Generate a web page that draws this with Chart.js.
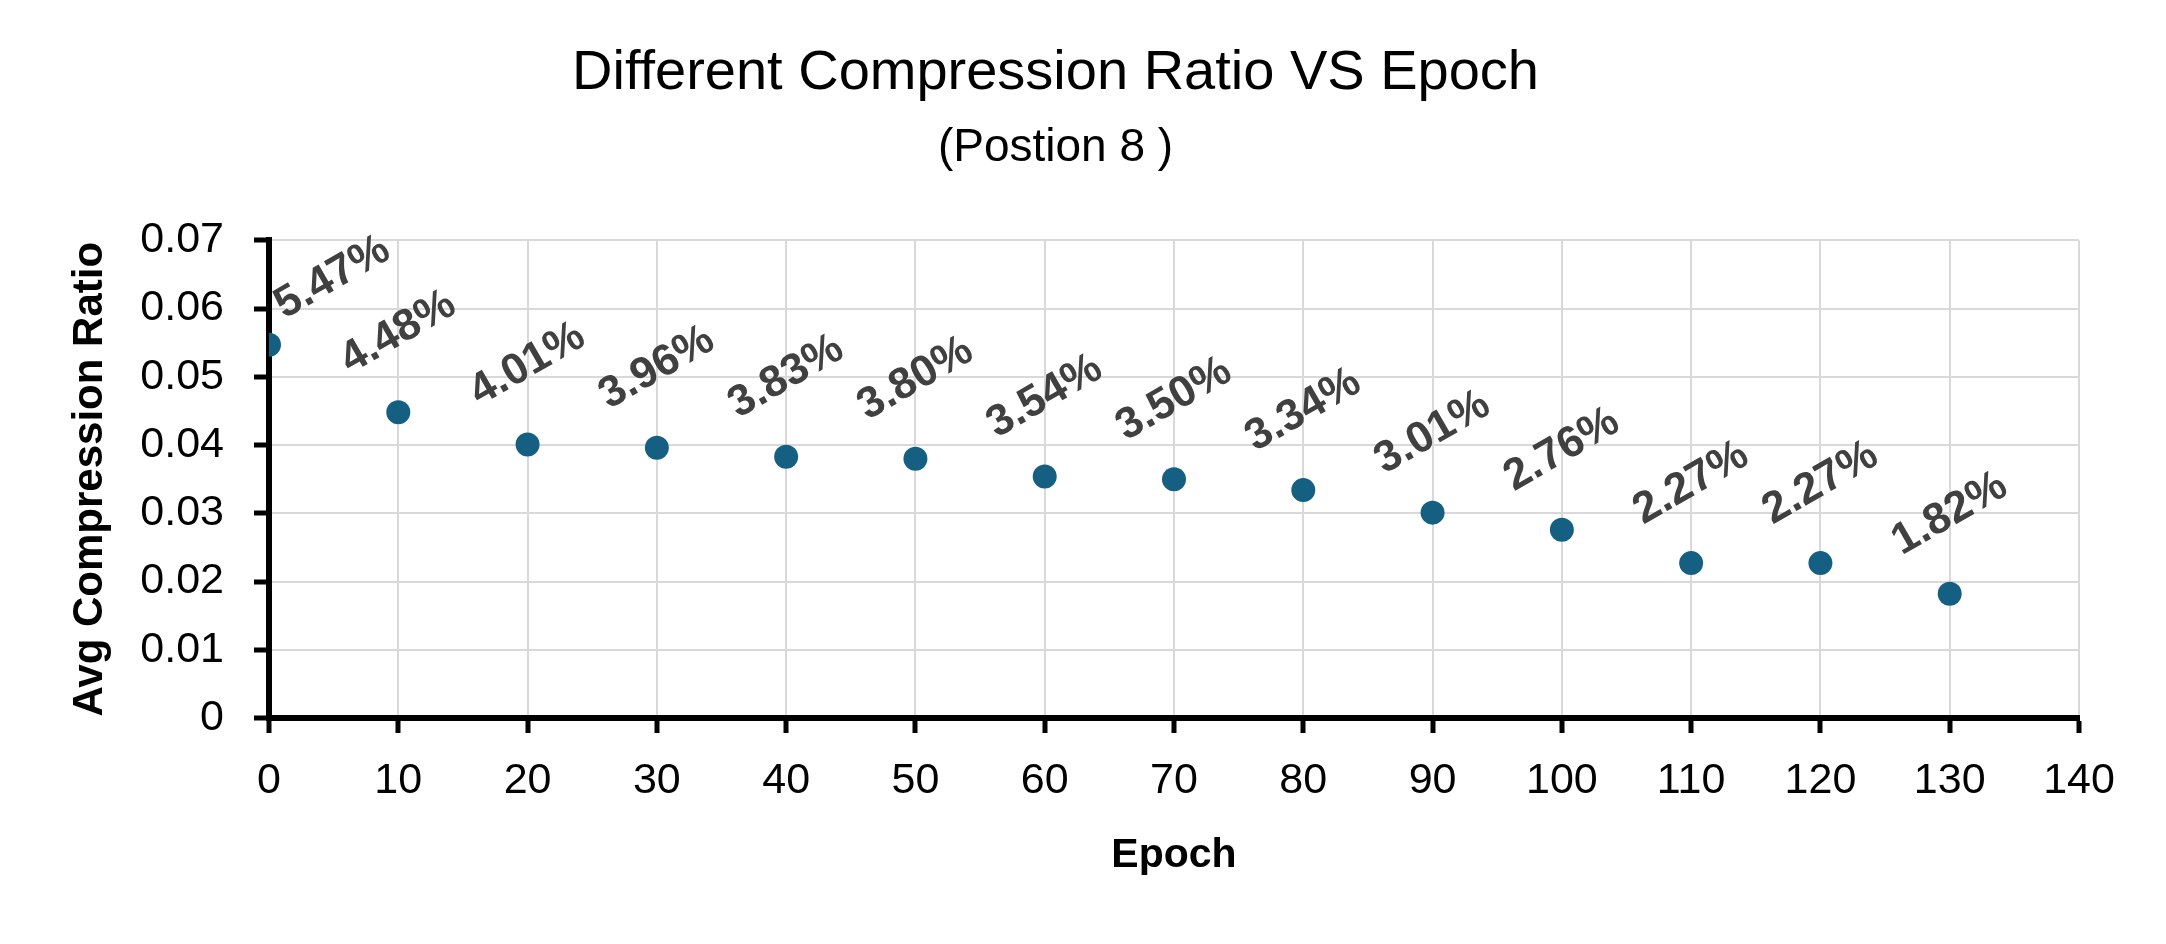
<!DOCTYPE html>
<html>
<head>
<meta charset="utf-8">
<title>Different Compression Ratio VS Epoch</title>
<script src="https://cdn.jsdelivr.net/npm/chart.js@4.4.1/dist/chart.umd.min.js"></script>
<style>
    html, body { margin: 0; padding: 0; background: #ffffff; }
    #wrap { width: 2166px; height: 944px; }
</style>
</head>
<body>
<div id="wrap"><canvas id="ratioChart" width="2166" height="944"></canvas></div>
<script>
// Data
const epochs = [0, 10, 20, 30, 40, 50, 60, 70, 80, 90, 100, 110, 120, 130];
const avgRatio = [0.0547, 0.0448, 0.0401, 0.0396, 0.0383, 0.0380, 0.0354, 0.0350, 0.0334, 0.0301, 0.0276, 0.0227, 0.0227, 0.0182];
const yTickLabels = ['0', '0.01', '0.02', '0.03', '0.04', '0.05', '0.06', '0.07'];
const xTickLabels = ['0', '10', '20', '30', '40', '50', '60', '70', '80', '90', '100', '110', '120', '130', '140'];

const FONT = "'Liberation Sans', Arial, sans-serif";
const POINT_COLOR = '#156082';
const LABEL_COLOR = '#404040';

// Rotated percentage labels above each point
const percentLabels = {
    id: 'percentLabels',
    afterDatasetsDraw(chart) {
        const ctx = chart.ctx;
        const area = chart.chartArea;
        const meta = chart.getDatasetMeta(0);
        const angle = -30 * Math.PI / 180;
        ctx.save();
        ctx.font = 'bold 44px ' + FONT;
        ctx.fillStyle = LABEL_COLOR;
        ctx.textAlign = 'center';
        ctx.textBaseline = 'middle';
        meta.data.forEach((pt, i) => {
            const text = (avgRatio[i] * 100).toFixed(2) + '%';
            const w = ctx.measureText(text).width;
            const halfW = (w * Math.cos(-angle) + 30 * Math.sin(-angle)) / 2;
            let cx = pt.x;
            let cy = pt.y - 80;
            // keep the first label inside the plot, like the original
            const minX = area.left + halfW + 2;
            if (cx < minX) {
                const shift = minX - cx;
                cx = minX;
                cy += shift * 0.2;
            }
            ctx.save();
            ctx.translate(cx, cy);
            ctx.rotate(angle);
            ctx.fillText(text, 0, 0);
            ctx.restore();
        });
        ctx.restore();
    }
};

const ctx = document.getElementById('ratioChart').getContext('2d');
new Chart(ctx, {
    type: 'scatter',
    data: {
        datasets: [{
            label: 'Avg Compression Ratio',
            data: epochs.map((e, i) => ({ x: e, y: avgRatio[i] })),
            backgroundColor: POINT_COLOR,
            borderColor: POINT_COLOR,
            borderWidth: 0,
            pointRadius: 12,
            pointHoverRadius: 12
        }]
    },
    options: {
        responsive: false,
        animation: false,
        devicePixelRatio: 1,
        layout: { padding: { left: 32, right: 87, top: 0, bottom: 0 } },
        plugins: {
            legend: { display: false },
            tooltip: { enabled: false },
            title: {
                display: true,
                text: 'Different Compression Ratio VS Epoch',
                color: '#000000',
                font: { family: FONT, size: 56, weight: 'normal', lineHeight: 1.2 },
                padding: { top: 40, bottom: 0 }
            },
            subtitle: {
                display: true,
                text: '(Postion 8 )',
                color: '#000000',
                font: { family: FONT, size: 46, weight: 'normal', lineHeight: 1.2 },
                padding: { top: 14, bottom: 64 }
            }
        },
        scales: {
            x: {
                type: 'linear',
                min: 0,
                max: 140,
                afterFit: scale => { scale.height = 226; },
                ticks: {
                    stepSize: 10,
                    padding: 22,
                    color: '#000000',
                    font: { family: FONT, size: 43 },
                    callback: (v, i) => xTickLabels[i]
                },
                grid: {
                    color: '#d9d9d9',
                    lineWidth: 2,
                    tickLength: 15,
                    tickColor: '#000000',
                    tickWidth: 5
                },
                border: { color: '#000000', width: 6 },
                title: {
                    display: true,
                    text: 'Epoch',
                    color: '#000000',
                    font: { family: FONT, size: 41, weight: 'bold', lineHeight: 1.2 },
                    padding: { top: 0, bottom: 64 }
                }
            },
            y: {
                min: 0,
                max: 0.07,
                afterFit: scale => { scale.width = 237; },
                ticks: {
                    stepSize: 0.01,
                    padding: 30,
                    color: '#000000',
                    font: { family: FONT, size: 43 },
                    callback: (v, i) => yTickLabels[i]
                },
                grid: {
                    color: '#d9d9d9',
                    lineWidth: 2,
                    tickLength: 15,
                    tickColor: '#000000',
                    tickWidth: 5
                },
                border: { color: '#000000', width: 6 },
                title: {
                    display: true,
                    text: 'Avg Compression Ratio',
                    color: '#000000',
                    font: { family: FONT, size: 42, weight: 'bold', lineHeight: 1.2 },
                    padding: { top: 33, bottom: 0 }
                }
            }
        }
    },
    plugins: [percentLabels]
});
</script>
</body>
</html>
